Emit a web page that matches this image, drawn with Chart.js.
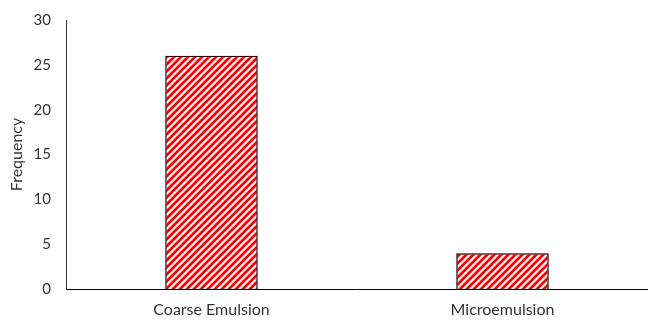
<!DOCTYPE html>
<html>
<head>
<meta charset="utf-8">
<script src="https://cdn.jsdelivr.net/npm/chart.js@4"></script>
<style>
	html, body { margin: 0; padding: 0; background: #fff; }
	#wrap { width: 648px; height: 320px; }
</style>
</head>
<body>
<div id="wrap"><canvas id="freq-chart"></canvas></div>
<script>
// Data
var categories = ['Coarse Emulsion', 'Microemulsion'];
var frequencies = [26, 4];
var yTicks = [0, 5, 10, 15, 20, 25, 30];

// Red diagonal hatch fill, like the Excel "wide upward diagonal" pattern
function make_hatch(size, color) {
	var c = document.createElement('canvas');
	c.width = size;
	c.height = size;
	var g = c.getContext('2d');
	g.fillStyle = '#ffffff';
	g.fillRect(0, 0, size, size);
	g.strokeStyle = color;
	g.lineWidth = 2.8;
	g.beginPath();
	g.moveTo(-2, 2);         g.lineTo(2, -2);
	g.moveTo(0, size);       g.lineTo(size, 0);
	g.moveTo(size - 2, size + 2); g.lineTo(size + 2, size - 2);
	g.stroke();
	return g.createPattern(c, 'repeat');
}

var ctx = document.getElementById('freq-chart');
var fontFamily = "Lato, 'Noto Sans', sans-serif";
var textColor = '#333333';

var cfg = {
	type: 'bar',
	data: {
		labels: categories,
		datasets: [{
			label: 'Frequency',
			data: frequencies,
			backgroundColor: make_hatch(7, '#ff0000'),
			borderColor: '#000000',
			borderWidth: 1.5,
			categoryPercentage: 1.0,
			barPercentage: 0.318
		}]
	},
	options: {
		responsive: true,
		maintainAspectRatio: false,
		animation: false,
		layout: { padding: { top: 0, right: 0, left: 0, bottom: 0 } },
		plugins: {
			legend: { display: false },
			tooltip: { enabled: false }
		},
		scales: {
			x: {
				grid: { display: false, drawTicks: false },
				border: { display: true, color: '#000000', width: 1 },
				ticks: { color: textColor, font: { family: fontFamily, size: 16, lineHeight: 1.1 }, padding: 12 },
				afterFit: function(axis) { axis.height = 31; }
			},
			y: {
				min: 0,
				max: 30,
				afterBuildTicks: function(axis) {
					axis.ticks = yTicks.map(function(v) { return { value: v }; });
				},
				grid: { display: false, drawTicks: false },
				border: { display: true, color: '#333333', width: 1 },
				ticks: { color: textColor, font: { family: fontFamily, size: 15, lineHeight: 1 }, padding: 15 },
				title: { display: true, text: 'Frequency', color: textColor, font: { family: fontFamily, size: 16 }, padding: { top: 7, bottom: 6 } },
				afterFit: function(axis) {
					axis.width = 66;
					axis.paddingTop = 20;
				}
			}
		}
	}
};
new Chart(ctx, cfg);
</script>
</body>
</html>
